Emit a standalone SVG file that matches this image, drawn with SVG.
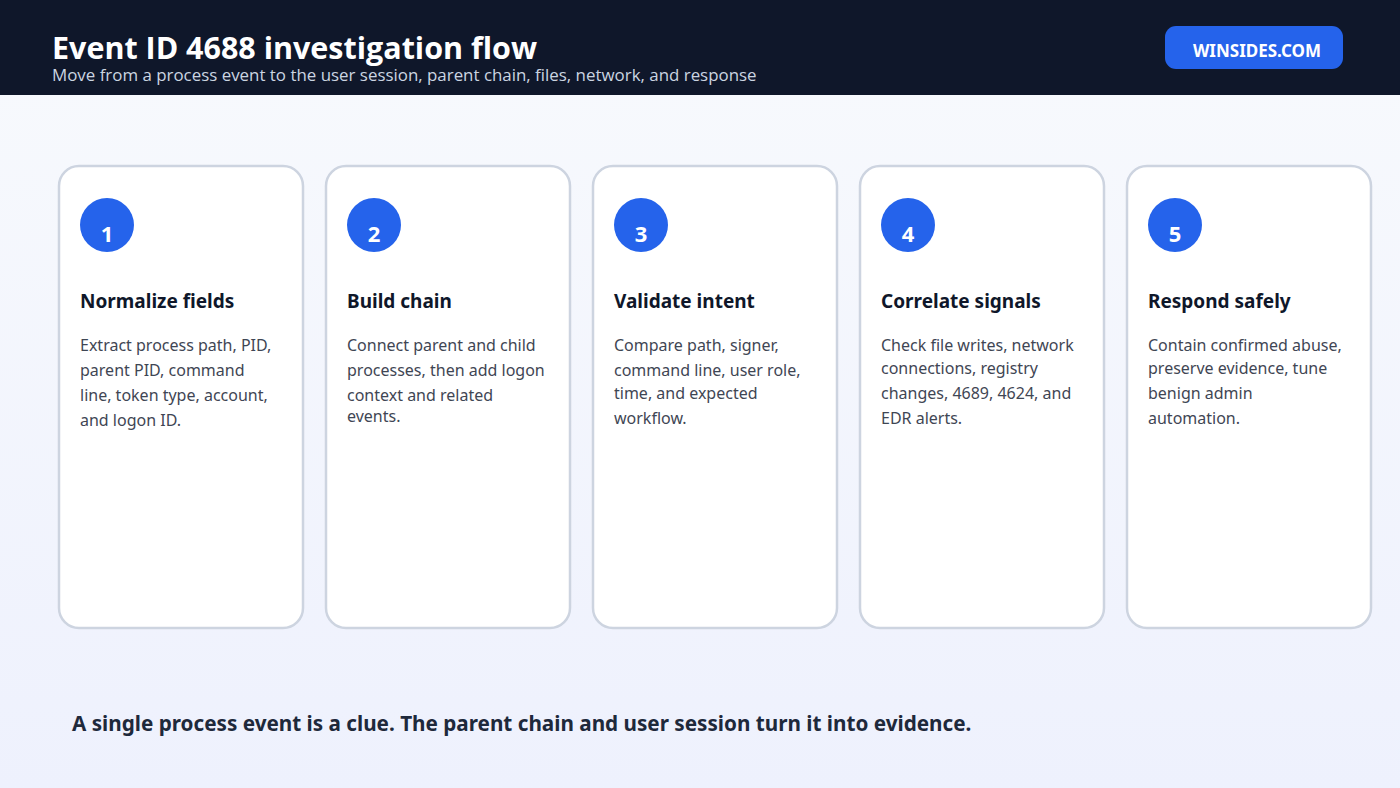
<svg xmlns="http://www.w3.org/2000/svg" width="1400" height="788" viewBox="0 0 1400 788">
<defs>
<linearGradient id="bg" x1="0" y1="0" x2="0" y2="1">
<stop offset="0" stop-color="#f8fafd"/>
<stop offset="1" stop-color="#eef1fd"/>
</linearGradient>
<style>
.card{fill:#ffffff;stroke:#cdd4e0;stroke-width:2.5}
.num-c{fill:#2563eb}
.num{font-family:"Noto Sans",sans-serif;font-weight:700;font-size:22px;fill:#ffffff;text-anchor:middle}
.h{font-family:"Noto Sans",sans-serif;font-weight:700;font-size:19px;fill:#0f172a}
.b{font-family:"Noto Sans",sans-serif;font-size:16px;fill:#3f4654}
</style>
</defs>
<rect width="1400" height="788" fill="url(#bg)"/>
<g id="header">
<rect x="0" y="0" width="1400" height="95" fill="#0f172a"/>
<text x="52" y="59" font-family="Open Sans, sans-serif" font-weight="700" font-size="30" fill="#ffffff" textLength="485" lengthAdjust="spacingAndGlyphs">Event ID 4688 investigation flow</text>
<text x="52" y="81" font-family="Open Sans, sans-serif" font-size="16.9" fill="#cbd5e1">Move from a process event to the user session, parent chain, files, network, and response</text>
</g>
<g id="badge">
<rect x="1165" y="26" width="178" height="43" rx="11" fill="#2563eb"/>
<text x="1257" y="57" text-anchor="middle" font-family="Noto Sans, sans-serif" font-weight="700" font-size="17" fill="#ffffff">WINSIDES.COM</text>
</g>
<g id="connectors"></g>
<g id="step1">
<rect class="card" x="59" y="166" width="244" height="462" rx="20"/>
<circle class="num-c" cx="107" cy="225" r="27"/>
<text class="num" x="107" y="242">1</text>
<text class="h" x="80" y="308">Normalize fields</text>
<text class="b" x="80" y="351">Extract process path, PID,</text>
<text class="b" x="80" y="376">parent PID, command</text>
<text class="b" x="80" y="401">line, token type, account,</text>
<text class="b" x="80" y="426">and logon ID.</text>
</g>
<g id="step2">
<rect class="card" x="326" y="166" width="244" height="462" rx="20"/>
<circle class="num-c" cx="374" cy="225" r="27"/>
<text class="num" x="374" y="242">2</text>
<text class="h" x="347" y="308">Build chain</text>
<text class="b" x="347" y="351">Connect parent and child</text>
<text class="b" x="347" y="376">processes, then add logon</text>
<text class="b" x="347" y="401">context and related</text>
<text class="b" x="347" y="422">events.</text>
</g>
<g id="step3">
<rect class="card" x="593" y="166" width="244" height="462" rx="20"/>
<circle class="num-c" cx="641" cy="225" r="27"/>
<text class="num" x="641" y="242">3</text>
<text class="h" x="614" y="308">Validate intent</text>
<text class="b" x="614" y="351">Compare path, signer,</text>
<text class="b" x="614" y="376">command line, user role,</text>
<text class="b" x="614" y="399">time, and expected</text>
<text class="b" x="614" y="424">workflow.</text>
</g>
<g id="step4">
<rect class="card" x="860" y="166" width="244" height="462" rx="20"/>
<circle class="num-c" cx="908" cy="225" r="27"/>
<text class="num" x="908" y="242">4</text>
<text class="h" x="881" y="308">Correlate signals</text>
<text class="b" x="881" y="351">Check file writes, network</text>
<text class="b" x="881" y="374">connections, registry</text>
<text class="b" x="881" y="399">changes, 4689, 4624, and</text>
<text class="b" x="881" y="424">EDR alerts.</text>
</g>
<g id="step5">
<rect class="card" x="1127" y="166" width="244" height="462" rx="20"/>
<circle class="num-c" cx="1175" cy="225" r="27"/>
<text class="num" x="1175" y="242">5</text>
<text class="h" x="1148" y="308">Respond safely</text>
<text class="b" x="1148" y="351">Contain confirmed abuse,</text>
<text class="b" x="1148" y="374">preserve evidence, tune</text>
<text class="b" x="1148" y="399">benign admin</text>
<text class="b" x="1148" y="424">automation.</text>
</g>
<g id="footer">
<text x="72" y="731" font-family="Noto Sans, sans-serif" font-weight="700" font-size="20.7" fill="#1e293b">A single process event is a clue. The parent chain and user session turn it into evidence.</text>
</g>
</svg>
